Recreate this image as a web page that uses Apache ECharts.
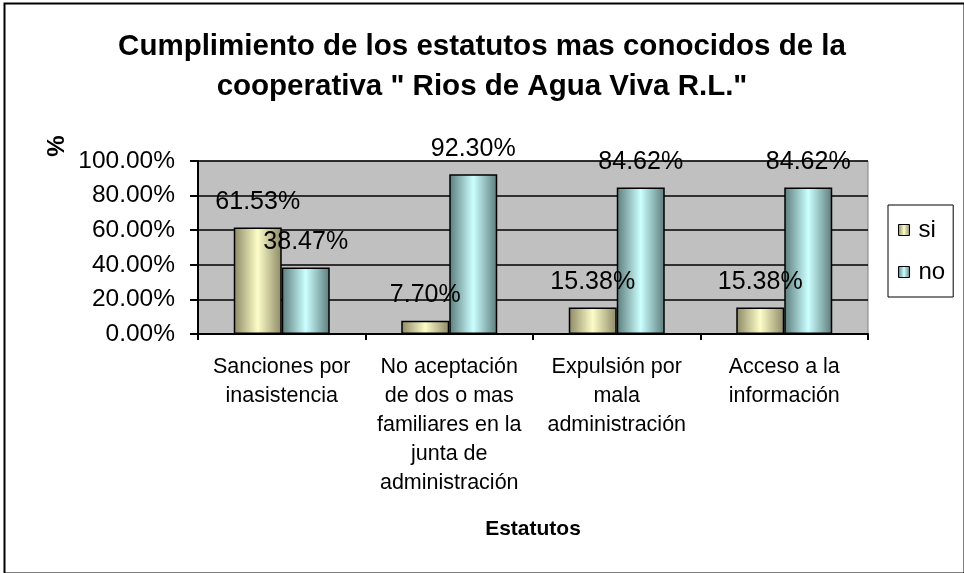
<!DOCTYPE html>
<html>
<head>
<meta charset="utf-8">
<script src="https://cdn.jsdelivr.net/npm/echarts@6/dist/echarts.min.js"></script>
<style>
html,body{margin:0;padding:0;background:#fff;}
#chart{width:964px;height:573px;}
</style>
</head>
<body>
<div id="chart"></div>
<script>
var categories = [
  'Sanciones por\ninasistencia',
  'No aceptación\nde dos o mas\nfamiliares en la\njunta de\nadministración',
  'Expulsión por\nmala\nadministración',
  'Acceso a la\ninformación'
];
var siValues = [61.53, 7.70, 15.38, 15.38];
var noValues = [38.47, 92.30, 84.62, 84.62];
var seriesNames = ['si', 'no'];
var titleLines = ['Cumplimiento de los estatutos mas conocidos de la', 'cooperativa " Rios de Agua Viva R.L."'];
var xAxisTitle = 'Estatutos';
var yAxisTitle = '%';

var FONT = '"Liberation Sans", Arial, sans-serif';

function grad(dark, light) {
  return new echarts.graphic.LinearGradient(0, 0, 1, 0, [
    {offset: 0, color: dark},
    {offset: 0.5, color: light},
    {offset: 1, color: dark}
  ]);
}

var chart = echarts.init(document.getElementById('chart'), null, {renderer: 'canvas'});
var labelCfg = {
  show: true,
  position: 'top',
  distance: 13,
  color: '#000',
  fontFamily: FONT,
  fontSize: 25,
  formatter: function (p) { return p.value.toFixed(2) + '%'; }
};
var option = {
  backgroundColor: '#fff',
  animation: false,
  title: {
    text: titleLines.join('\n'),
    left: 'center',
    top: 22,
    textStyle: {fontFamily: FONT, fontSize: 29.5, fontWeight: 'bold', color: '#000', lineHeight: 40}
  },
  legend: {
    orient: 'vertical',
    left: 888,
    top: 205,
    width: 67,
    padding: [13, 8, 13, 10],
    itemGap: 18,
    itemWidth: 11,
    itemHeight: 11,
    icon: 'rect',
    backgroundColor: '#fff',
    borderColor: '#000',
    borderWidth: 1,
    itemStyle: {borderColor: '#000', borderWidth: 1},
    textStyle: {fontFamily: FONT, fontSize: 24, color: '#000', padding: [0, 0, 0, 4]},
    data: seriesNames
  },
  grid: {
    left: 198,
    right: 96,
    top: 161,
    bottom: 239,
    show: true,
    backgroundColor: '#c0c0c0',
    borderColor: '#808080',
    borderWidth: 1
  },
  xAxis: {
    type: 'category',
    data: categories,
    name: xAxisTitle,
    nameLocation: 'middle',
    nameGap: 185,
    nameTextStyle: {fontFamily: FONT, fontSize: 21, fontWeight: 'bold', color: '#000', verticalAlign: 'top'},
    axisLine: {lineStyle: {color: '#000', width: 2}},
    axisTick: {show: true, length: 6, lineStyle: {color: '#000', width: 2}},
    axisLabel: {
      interval: 0,
      margin: 19,
      fontFamily: FONT,
      fontSize: 21.5,
      lineHeight: 29,
      color: '#000',
      align: 'center'
    }
  },
  yAxis: {
    type: 'value',
    min: 0,
    max: 100,
    interval: 20,
    axisLine: {show: true, lineStyle: {color: '#000', width: 2}},
    axisTick: {show: true, length: 8, lineStyle: {color: '#000', width: 2}},
    splitLine: {show: true, lineStyle: {color: '#000', width: 1.5}},
    axisLabel: {
      margin: 23,
      fontFamily: FONT,
      fontSize: 24.5,
      color: '#000',
      formatter: function (v) { return v.toFixed(2) + '%'; }
    }
  },
  series: [
    {
      name: seriesNames[0],
      type: 'bar',
      data: siValues,
      barWidth: 48,
      barGap: '0%',
      itemStyle: {color: grad('#8c8866', '#fdfdc8'), borderColor: '#000', borderWidth: 1.5},
      label: labelCfg
    },
    {
      name: seriesNames[1],
      type: 'bar',
      data: noValues,
      barWidth: 48,
      barGap: '0%',
      itemStyle: {color: grad('#5c7b7b', '#ccffff'), borderColor: '#000', borderWidth: 1.5},
      label: labelCfg
    }
  ],
  graphic: [
    {
      type: 'rect',
      left: 2, top: 1,
      shape: {x: 0, y: 0, width: 960, height: 570},
      style: {fill: 'none', stroke: '#000', lineWidth: 2},
      silent: true
    },
    {
      type: 'text',
      x: 57, y: 146,
      rotation: Math.PI / 2,
      style: {text: yAxisTitle, fontFamily: FONT, fontSize: 24, fontWeight: 'bold', fill: '#000', align: 'center', verticalAlign: 'middle'}
    }
  ]
};
chart.setOption(option);
</script>
</body>
</html>
